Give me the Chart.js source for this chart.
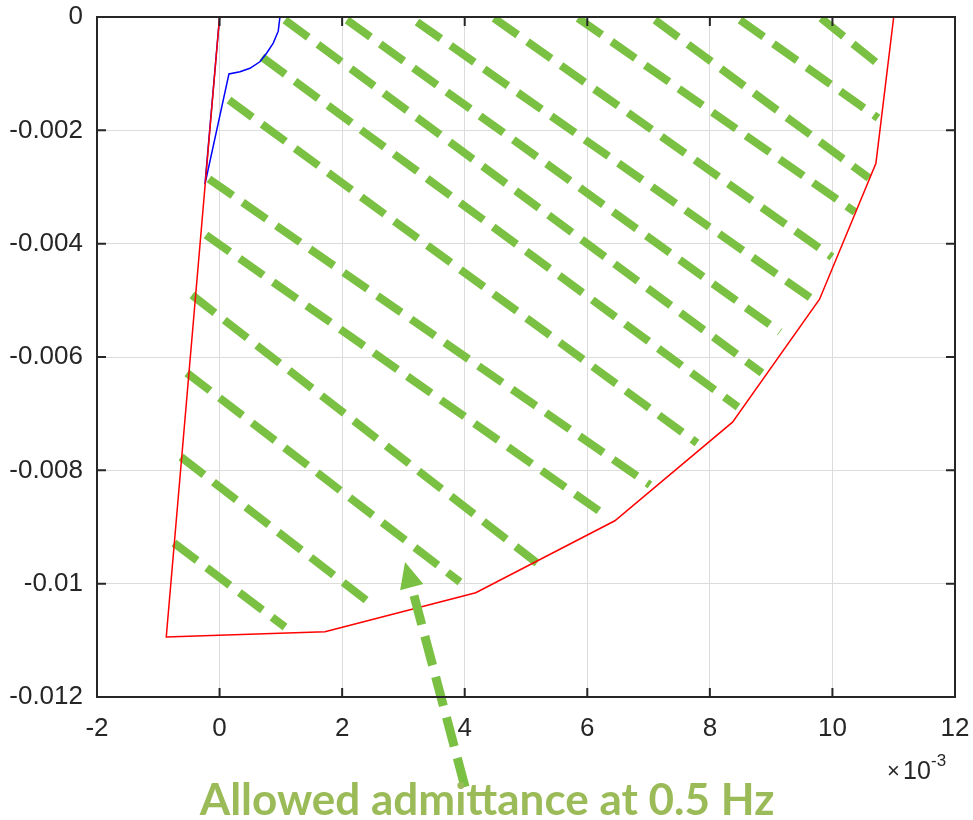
<!DOCTYPE html>
<html>
<head>
<meta charset="utf-8">
<script src="https://cdn.jsdelivr.net/npm/chart.js@4/dist/chart.umd.min.js"></script>
<style>
  html, body { margin: 0; padding: 0; background: #ffffff; }
  #wrap { width: 973px; height: 820px; }
</style>
</head>
<body>
<div id="wrap"><canvas id="chart" width="973" height="820"></canvas></div>
<script>
// x values are in units of 1e-3 (axis shows x10^-3), y values are real units
const xTicks = [-2, 0, 2, 4, 6, 8, 10, 12];
const xTickLabels = ["-2", "0", "2", "4", "6", "8", "10", "12"];
const yTicks = [0, -0.002, -0.004, -0.006, -0.008, -0.01, -0.012];
const yTickLabels = ["0", "-0.002", "-0.004", "-0.006", "-0.008", "-0.01", "-0.012"];

// red boundary of the allowed region
const boundaryX = [0, -0.87, 1.72, 4.18, 6.45, 8.37, 9.79, 10.71, 11.0];
const boundaryY = [0, -0.01094, -0.01085, -0.01016, -0.00889, -0.00715, -0.00498, -0.00258, 0];

// blue curve near the origin
const curveX = [0.985, 0.957, 0.876, 0.767, 0.658, 0.495, 0.333, 0.153, -0.238, 0];
const curveY = [0, -0.00025, -0.00046, -0.00064, -0.00079, -0.000905, -0.000965, -0.001005, -0.00295, 0];

// green hatch lines: start and end points
const hatchX0 = [-0.744, -0.629, -0.532, -0.45, -0.221, -0.173, 0.154, 0.691, 1.067, 2.079, 3.222, 4.478, 5.849, 7.105, 8.492, 9.814];
const hatchY0 = [-0.009282, -0.007765, -0.006282, -0.004906, -0.003847, -0.002859, -0.001465, -0.000706, -0.000053, -0.000053, -0.000088, -0.00002, -0.00002, -0.000053, -0.000053, -0.00002];
const hatchX1 = [1.068, 2.536, 3.923, 5.179, 6.24, 7.023, 7.79, 8.459, 8.85, 9.144, 9.667, 9.993, 10.368, 10.596, 10.743, 10.826];
const hatchY1 = [-0.010765, -0.010412, -0.009971, -0.009635, -0.008753, -0.008259, -0.007518, -0.006882, -0.006282, -0.005559, -0.004976, -0.004235, -0.003441, -0.002841, -0.001782, -0.0009];

// annotation arrow (tail, tip)
const arrowX = [4.005, 3.026];
const arrowY = [-0.013588, -0.009618];

const caption = "Allowed admittance at 0.5 Hz";
const GREEN = "#7ac143";
const AXIS = "#262626";

const toPoints = (xs, ys) => xs.map((x, i) => ({ x, y: ys[i] }));

const hatchSets = hatchX0.map((x0, i) => ({
  data: [{ x: x0, y: hatchY0[i] }, { x: hatchX1[i], y: hatchY1[i] }],
  borderColor: GREEN,
  borderWidth: 8,
  borderDash: [29, 12],
  borderCapStyle: "butt",
  showLine: true,
  pointRadius: 0,
  order: 3,
}));

// box, inward ticks, arrow and labels
const decorations = {
  id: "decorations",
  afterDatasetsDraw(chart) {
    const { ctx, chartArea: a, scales } = chart;
    const x = scales.x;
    const y = scales.y;
    ctx.save();

    // arrow
    const tx = x.getPixelForValue(arrowX[0]);
    const ty = y.getPixelForValue(arrowY[0]);
    const hx = x.getPixelForValue(arrowX[1]);
    const hy = y.getPixelForValue(arrowY[1]);
    const ang = Math.atan2(hy - ty, hx - tx);
    const headLen = 26;
    const headHalf = 12;
    const bx = hx - headLen * Math.cos(ang);
    const by = hy - headLen * Math.sin(ang);
    ctx.strokeStyle = GREEN;
    ctx.lineWidth = 9;
    ctx.setLineDash([30, 12]);
    ctx.beginPath();
    ctx.moveTo(tx, ty);
    ctx.lineTo(bx + 2 * Math.cos(ang), by + 2 * Math.sin(ang));
    ctx.stroke();
    ctx.setLineDash([]);
    ctx.fillStyle = GREEN;
    ctx.beginPath();
    ctx.moveTo(hx, hy);
    ctx.lineTo(bx + headHalf * Math.sin(ang), by - headHalf * Math.cos(ang));
    ctx.lineTo(bx - headHalf * Math.sin(ang), by + headHalf * Math.cos(ang));
    ctx.closePath();
    ctx.fill();

    // axes box
    ctx.strokeStyle = AXIS;
    ctx.lineWidth = 2;
    ctx.strokeRect(a.left, a.top, a.right - a.left, a.bottom - a.top);

    // inward ticks on all four sides
    const len = 9;
    ctx.lineWidth = 2;
    ctx.beginPath();
    xTicks.forEach((v) => {
      const px = x.getPixelForValue(v);
      ctx.moveTo(px, a.bottom);
      ctx.lineTo(px, a.bottom - len);
      ctx.moveTo(px, a.top);
      ctx.lineTo(px, a.top + len);
    });
    yTicks.forEach((v) => {
      const py = y.getPixelForValue(v);
      ctx.moveTo(a.left, py);
      ctx.lineTo(a.left + len, py);
      ctx.moveTo(a.right, py);
      ctx.lineTo(a.right - len, py);
    });
    ctx.stroke();

    // x10^-3 exponent label
    ctx.fillStyle = AXIS;
    ctx.textAlign = "left";
    ctx.textBaseline = "alphabetic";
    ctx.font = "22px 'Liberation Sans', Arial, sans-serif";
    ctx.fillText("\u00d7", 887, 778);
    ctx.font = "25px 'Liberation Sans', Arial, sans-serif";
    ctx.fillText("10", 903, 779);
    ctx.font = "17px 'Liberation Sans', Arial, sans-serif";
    ctx.fillText("-3", 931, 766);

    // caption
    ctx.fillStyle = "#9bbb59";
    ctx.textAlign = "center";
    ctx.font = "bold 44px Lato, 'Open Sans', sans-serif";
    ctx.fillText(caption, 487, 815);
    ctx.restore();
  },
};

new Chart(document.getElementById("chart"), {
  type: "scatter",
  data: {
    datasets: [
      {
        data: toPoints(boundaryX, boundaryY),
        borderColor: "#ff0000",
        borderWidth: 1.5,
        showLine: true,
        pointRadius: 0,
        order: 1,
      },
      {
        data: toPoints(curveX, curveY),
        borderColor: "#0000ff",
        borderWidth: 1.5,
        showLine: true,
        pointRadius: 0,
        order: 2,
      },
      ...hatchSets,
    ],
  },
  options: {
    responsive: false,
    animation: false,
    layout: { padding: { left: 0, top: 17, right: 18, bottom: 0 } },
    plugins: {
      legend: { display: false },
      tooltip: { enabled: false },
    },
    scales: {
      x: {
        type: "linear",
        min: -2,
        max: 12,
        afterBuildTicks: (scale) => {
          scale.ticks = xTicks.map((value) => ({ value }));
        },
        afterFit: (scale) => {
          scale.height = 123;
          scale.paddingLeft = 0;
          scale.paddingRight = 0;
        },
        ticks: {
          callback: (value, index) => xTickLabels[index],
          color: AXIS,
          padding: 16,
          maxRotation: 0,
          font: { family: "'Liberation Sans', Arial, sans-serif", size: 26 },
        },
        grid: { color: "#dcdcdc", lineWidth: 1, drawTicks: false },
        border: { display: false },
      },
      y: {
        type: "linear",
        min: -0.012,
        max: 0,
        afterBuildTicks: (scale) => {
          scale.ticks = yTicks.map((value) => ({ value }));
        },
        afterFit: (scale) => {
          scale.width = 97;
          scale.paddingTop = 0;
          scale.paddingBottom = 0;
        },
        ticks: {
          callback: (value, index) => yTickLabels[index],
          color: AXIS,
          padding: 14,
          font: { family: "'Liberation Sans', Arial, sans-serif", size: 26 },
        },
        grid: { color: "#dcdcdc", lineWidth: 1, drawTicks: false },
        border: { display: false },
      },
    },
  },
  plugins: [decorations],
});
</script>
</body>
</html>
